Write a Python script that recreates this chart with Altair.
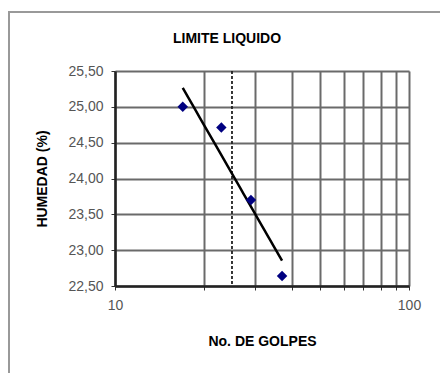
import altair as alt
import pandas as pd

golpes = [17, 23, 29, 37]
humedad = [25.00, 24.71, 23.70, 22.64]
limite_golpes = [25]
x_ticks = [10, 20, 30, 40, 50, 60, 70, 80, 90, 100]
y_ticks = [22.5, 23.0, 23.5, 24.0, 24.5, 25.0, 25.5]
titulo = ["LIMITE LIQUIDO"]

df = pd.DataFrame({"golpes": golpes, "humedad": humedad})
df_rule = pd.DataFrame({"golpes": limite_golpes})
df_title = pd.DataFrame({"t": titulo})

FONT = "Liberation Sans"

xscale = alt.Scale(type="log", domain=[10, 100], nice=False)
yscale = alt.Scale(domain=[22.5, 25.5], nice=False, zero=False)

xaxis = alt.Axis(
    values=x_ticks,
    labelExpr="datum.value == 10 || datum.value == 100 ? datum.label : ''",
    format="d",
    title="No. DE GOLPES",
    titleFont=FONT, titleFontSize=14, titleFontWeight="bold", titleColor="#000",
    titlePadding=22,
    labelFont=FONT, labelFontSize=14, labelColor="#555",
    labelPadding=8, tickSize=4, tickColor="#333",
    labelFlush=False, labelOverlap=False,
    grid=True, gridColor="#6a6a6a", gridWidth=2,
    domainColor="#222", domainWidth=2.5,
)
yaxis = alt.Axis(
    values=y_ticks,
    labelExpr="replace(format(datum.value, '.2f'), '.', ',')",
    title="HUMEDAD (%)",
    titleFont=FONT, titleFontSize=14, titleFontWeight="bold", titleColor="#000",
    titlePadding=18,
    labelFont=FONT, labelFontSize=14, labelColor="#555",
    labelPadding=8, tickSize=4, tickColor="#333",
    labelFlush=False, labelOverlap=False,
    grid=True, gridColor="#6a6a6a", gridWidth=2,
    domainColor="#222", domainWidth=2.5,
)

border = alt.Chart(df).mark_rect(
    fill=None, stroke="#999", strokeWidth=2
).encode(
    x=alt.value(-106), x2=alt.value(340), y=alt.value(-59), y2=alt.value(315)
)

title = alt.Chart(df_title).mark_text(
    font=FONT, fontSize=14, fontWeight="bold", color="#000",
    align="center", baseline="middle"
).encode(x=alt.value(112), y=alt.value(-32), text="t:N")

points = alt.Chart(df).mark_point(
    shape="diamond", filled=True, color="#000080", size=110, opacity=1
).encode(
    x=alt.X("golpes:Q", scale=xscale, axis=xaxis),
    y=alt.Y("humedad:Q", scale=yscale, axis=yaxis),
)

trend = alt.Chart(df).transform_regression(
    "golpes", "humedad", method="log"
).mark_line(color="#000", strokeWidth=2.5).encode(
    x=alt.X("golpes:Q", scale=xscale, axis=xaxis),
    y=alt.Y("humedad:Q", scale=yscale, axis=yaxis),
)

rule = alt.Chart(df_rule).mark_rule(
    color="#222", strokeWidth=1.8, strokeDash=[3, 2]
).encode(x=alt.X("golpes:Q", scale=xscale, axis=xaxis))

chart = alt.layer(border, title, rule, trend, points).properties(
    width=294,
    height=215,
    autosize="none",
    padding={"left": 115, "top": 71, "right": 31, "bottom": 87},
).configure_view(stroke="#222", strokeWidth=2.5).configure(background="white")

chart.save("out.html", embed_options={"renderer": "svg", "actions": False})
